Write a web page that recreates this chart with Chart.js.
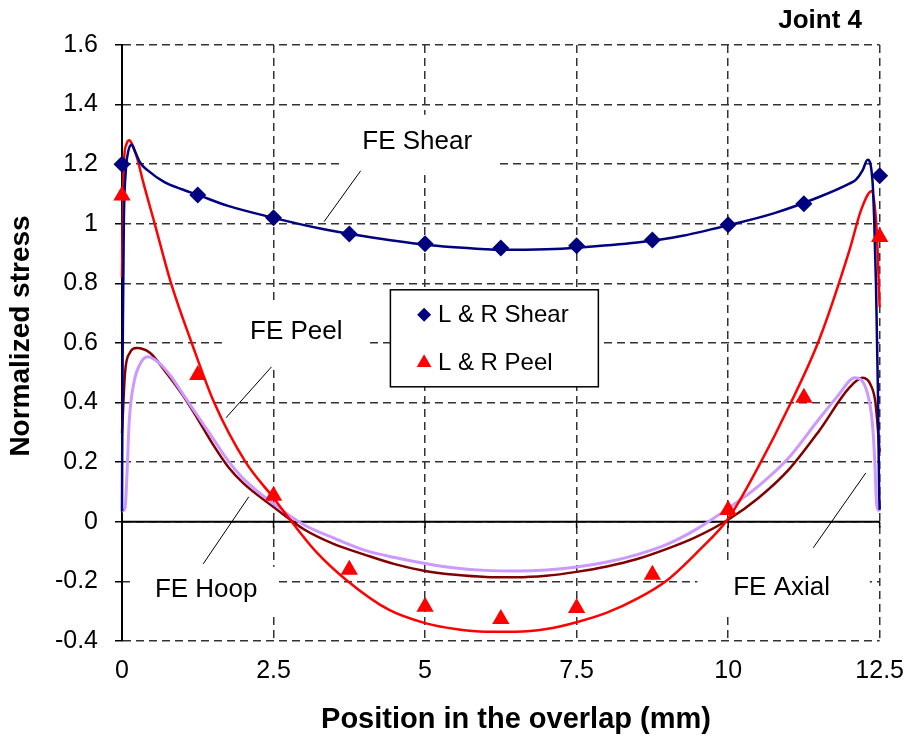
<!DOCTYPE html>
<html>
<head>
<meta charset="utf-8">
<script src="https://cdn.jsdelivr.net/npm/chart.js@4/dist/chart.umd.min.js"></script>
<style>
html,body{margin:0;padding:0;background:#fff;}
#wrap{width:919px;height:745px;position:relative;}
</style>
</head>
<body>
<div id="wrap"><canvas id="c" width="919" height="745"></canvas></div>
<script>
// ---------- DATA ----------
const lrX = [0, 1.25, 2.5, 3.75, 5, 6.25, 7.5, 8.75, 10, 11.25, 12.5];
const lrShear = [1.20, 1.097, 1.02, 0.966, 0.933, 0.919, 0.926, 0.946, 0.997, 1.067, 1.161];
const lrPeel = [1.095, 0.493, 0.087, -0.161, -0.285, -0.326, -0.289, -0.178, 0.04, 0.416, 0.956];

const feShearX = [0, 0.01, 0.03, 0.06, 0.1, 0.16, 0.22, 0.3, 0.42, 0.7, 1.0, 1.25, 1.75, 2.5, 3.25, 4.0, 5.0, 6.0, 6.25, 7.0, 7.5, 8.5, 9.25, 10.0, 10.75, 11.5, 12.0, 12.11, 12.22, 12.3, 12.38, 12.41, 12.44, 12.47, 12.49, 12.5];
const feShearY = [0.035, 0.55, 1.0, 1.17, 1.24, 1.265, 1.24, 1.205, 1.18, 1.14, 1.115, 1.097, 1.06, 1.02, 0.985, 0.958, 0.93, 0.915, 0.913, 0.915, 0.92, 0.937, 0.96, 0.995, 1.035, 1.09, 1.135, 1.148, 1.18, 1.215, 1.148, 1.013, 0.79, 0.454, 0.118, 0.04];

const fePeelX = [0, 0.03, 0.07, 0.12, 0.18, 0.25, 0.35, 0.54, 0.81, 1.15, 1.52, 2.04, 2.5, 2.8, 3.2, 3.7, 4.4, 5.0, 5.5, 6.0, 6.5, 7.0, 7.5, 8.0, 8.5, 9.0, 9.5, 10.0, 10.5, 11.0, 11.5, 12.0, 12.2, 12.37, 12.45, 12.5];
const fePeelY = [0.82, 1.2, 1.265, 1.28, 1.26, 1.22, 1.14, 1.0, 0.8, 0.6, 0.4, 0.2, 0.08, 0.0, -0.1, -0.195, -0.295, -0.34, -0.36, -0.369, -0.369, -0.36, -0.337, -0.305, -0.258, -0.195, -0.1, 0.01, 0.185, 0.385, 0.61, 0.91, 1.05, 1.11, 0.98, 0.72];

const feHoopX = [0, 0.05, 0.13, 0.24, 0.46, 0.73, 1.0, 1.25, 1.5, 1.75, 2.0, 2.5, 3.0, 3.5, 4.0, 4.5, 5.0, 5.5, 6.0, 6.5, 7.0, 7.5, 8.0, 8.5, 9.0, 9.44, 10.0, 10.5, 11.0, 11.5, 12.0, 12.22, 12.35, 12.43, 12.5];
const feHoopY = [0.298, 0.5, 0.567, 0.583, 0.567, 0.50, 0.425, 0.345, 0.26, 0.185, 0.13, 0.05, -0.025, -0.075, -0.11, -0.142, -0.165, -0.178, -0.185, -0.186, -0.181, -0.168, -0.15, -0.125, -0.09, -0.054, 0.007, 0.08, 0.175, 0.305, 0.45, 0.483, 0.46, 0.40, 0.235];

const feAxialX = [0, 0.05, 0.08, 0.12, 0.2, 0.3, 0.42, 0.6, 0.8, 1.0, 1.25, 1.5, 1.75, 2.0, 2.5, 3.0, 3.5, 4.0, 4.5, 5.0, 5.5, 6.0, 6.5, 7.0, 7.5, 8.0, 8.5, 9.0, 9.5, 10.0, 10.5, 11.0, 11.5, 11.8, 12.09, 12.3, 12.38, 12.42, 12.45, 12.5];
const feAxialY = [0.035, 0.045, 0.15, 0.34, 0.47, 0.53, 0.554, 0.535, 0.49, 0.43, 0.355, 0.28, 0.205, 0.145, 0.06, -0.01, -0.055, -0.095, -0.12, -0.14, -0.155, -0.163, -0.165, -0.162, -0.152, -0.135, -0.11, -0.075, -0.022, 0.045, 0.12, 0.215, 0.345, 0.42, 0.483, 0.43, 0.33, 0.2, 0.06, 0.035];

const xTickValues = [0, 2.5, 5, 7.5, 10, 12.5];
const xTickLabels = ['0', '2.5', '5', '7.5', '10', '12.5'];
const yTickValues = [-0.4, -0.2, 0, 0.2, 0.4, 0.6, 0.8, 1.0, 1.2, 1.4, 1.6];
const yTickLabels = ['-0.4', '-0.2', '0', '0.2', '0.4', '0.6', '0.8', '1', '1.2', '1.4', '1.6'];

const seriesNames = ['L & R Shear', 'L & R Peel', 'FE Shear', 'FE Peel', 'FE Hoop', 'FE Axial'];
const xTitle = 'Position in the overlap (mm)';
const yTitle = 'Normalized stress';
const cornerTitle = 'Joint 4';

// ---------- layout helpers (positions in data units, not data) ----------
const annotations = [
  {text: 'FE Shear', tx: 4.87, ty: 1.275, box: [3.595, 6.209, 1.366, 1.181], line: [3.938, 1.178, 3.333, 1.007]},
  {text: 'FE Peel',  tx: 2.876, ty: 0.638, box: [1.716, 4.085, 0.728, 0.520], line: [2.467, 0.520, 1.716, 0.349]},
  {text: 'FE Hoop',  tx: 1.389, ty: -0.228, box: [0.131, 2.582, -0.151, -0.305], line: [2.092, 0.084, 1.340, -0.141]},
  {text: 'FE Axial', tx: 10.882, ty: -0.221, box: [9.493, 12.337, -0.138, -0.312], line: [12.271, 0.164, 11.405, -0.087]}
];
const legendLayout = {x1: 4.428, x2: 7.859, y1: 0.7785, y2: 0.453, markerX: 4.984, textX: 5.212, rows: [0.6946, 0.5336]};

const FONT = '"Liberation Sans", Arial, Helvetica, sans-serif';
const pts = (xs, ys) => xs.map((x, i) => ({x: x, y: ys[i]}));

const decor = {
  id: 'decor',
  beforeDatasetsDraw(chart) {
    const ctx = chart.ctx, X = chart.scales.x, Y = chart.scales.y, a = chart.chartArea;
    ctx.save();
    ctx.setLineDash([]);
    ctx.fillStyle = '#fff';
    annotations.forEach(an => {
      const x1 = X.getPixelForValue(an.box[0]), x2 = X.getPixelForValue(an.box[1]);
      const y1 = Y.getPixelForValue(an.box[2]), y2 = Y.getPixelForValue(an.box[3]);
      ctx.fillRect(x1, y1, x2 - x1, y2 - y1);
    });
    const y0 = Y.getPixelForValue(0);
    ctx.strokeStyle = '#000';
    ctx.lineWidth = 2;
    ctx.beginPath(); ctx.moveTo(a.left, y0); ctx.lineTo(a.right, y0); ctx.stroke();
    ctx.lineWidth = 1.5;
    xTickValues.forEach(v => {
      const x = X.getPixelForValue(v);
      ctx.beginPath(); ctx.moveTo(x, y0); ctx.lineTo(x, y0 + 6); ctx.stroke();
    });
    ctx.fillStyle = '#000';
    ctx.font = '26px ' + FONT;
    ctx.textAlign = 'center';
    ctx.textBaseline = 'middle';
    ctx.lineWidth = 1;
    annotations.forEach(an => {
      ctx.fillText(an.text, X.getPixelForValue(an.tx), Y.getPixelForValue(an.ty));
      ctx.beginPath();
      ctx.moveTo(X.getPixelForValue(an.line[0]), Y.getPixelForValue(an.line[1]));
      ctx.lineTo(X.getPixelForValue(an.line[2]), Y.getPixelForValue(an.line[3]));
      ctx.stroke();
    });
    ctx.restore();
  },
  afterDatasetsDraw(chart) {
    const ctx = chart.ctx, X = chart.scales.x, Y = chart.scales.y;
    ctx.save();
    ctx.setLineDash([]);
    const L = legendLayout;
    const x1 = X.getPixelForValue(L.x1), x2 = X.getPixelForValue(L.x2);
    const y1 = Y.getPixelForValue(L.y1), y2 = Y.getPixelForValue(L.y2);
    ctx.fillStyle = '#fff';
    ctx.fillRect(x1, y1, x2 - x1, y2 - y1);
    ctx.strokeStyle = '#000';
    ctx.lineWidth = 1.5;
    ctx.strokeRect(x1, y1, x2 - x1, y2 - y1);
    [0, 1].forEach((di, r) => {
      const ds = chart.data.datasets[di];
      const mx = X.getPixelForValue(L.markerX), my = Y.getPixelForValue(L.rows[r]);
      ctx.fillStyle = ds.backgroundColor;
      ctx.strokeStyle = ds.borderColor;
      Chart.helpers.drawPoint(ctx, {pointStyle: ds.pointStyle, radius: ds.pointStyle === 'triangle' ? 8.5 : 7, rotation: 0, borderWidth: 0}, mx, my);
      ctx.fillStyle = '#000';
      ctx.font = '24px ' + FONT;
      ctx.textAlign = 'left';
      ctx.textBaseline = 'middle';
      ctx.fillText(ds.label, X.getPixelForValue(L.textX), my + 1);
    });
    ctx.restore();
  },
  afterDraw(chart) {
    const ctx = chart.ctx, a = chart.chartArea;
    ctx.save();
    ctx.fillStyle = '#000';
    ctx.textBaseline = 'middle';
    ctx.textAlign = 'center';
    ctx.font = 'bold 29px ' + FONT;
    ctx.fillText(xTitle, 516, 720);
    ctx.save();
    ctx.translate(21, 336);
    ctx.rotate(-Math.PI / 2);
    ctx.font = 'bold 28px ' + FONT;
    ctx.fillText(yTitle, 0, 0);
    ctx.restore();
    ctx.textAlign = 'right';
    ctx.font = 'bold 26px ' + FONT;
    ctx.fillText(cornerTitle, 862, 21);
    ctx.restore();
  }
};

const gridColor = '#333333';
const chart = new Chart(document.getElementById('c'), {
  type: 'line',
  data: {
    datasets: [
      {label: seriesNames[0], data: pts(lrX, lrShear), showLine: false, pointStyle: 'rectRot', pointRadius: 8.5,
       backgroundColor: '#000080', borderColor: '#000080', pointBorderWidth: 0, clip: false, order: 0},
      {label: seriesNames[1], data: pts(lrX, lrPeel), showLine: false, pointStyle: 'triangle', pointRadius: 10,
       backgroundColor: '#FF0000', borderColor: '#FF0000', pointBorderWidth: 0, clip: false, order: 1},
      {label: seriesNames[2], data: pts(feShearX, feShearY), borderColor: '#000080', borderWidth: 2.5, pointRadius: 0,
       cubicInterpolationMode: 'monotone', fill: false, clip: false, order: 2},
      {label: seriesNames[3], data: pts(fePeelX, fePeelY), borderColor: '#FF0000', borderWidth: 2.5, pointRadius: 0,
       cubicInterpolationMode: 'monotone', fill: false, clip: false, order: 3},
      {label: seriesNames[4], data: pts(feHoopX, feHoopY), borderColor: '#800000', borderWidth: 2.5, pointRadius: 0,
       cubicInterpolationMode: 'monotone', fill: false, clip: false, order: 5},
      {label: seriesNames[5], data: pts(feAxialX, feAxialY), borderColor: '#CC99FF', borderWidth: 3, pointRadius: 0,
       cubicInterpolationMode: 'monotone', fill: false, clip: false, order: 4}
    ]
  },
  options: {
    responsive: false,
    animation: false,
    devicePixelRatio: 1,
    layout: {padding: {top: 45, right: 32, bottom: 0, left: 0}},
    plugins: {legend: {display: false}, tooltip: {enabled: false}, title: {display: false}},
    scales: {
      x: {
        type: 'linear', min: 0, max: 12.5,
        afterBuildTicks: s => { s.ticks = xTickValues.map(v => ({value: v})); },
        afterFit: s => { s.height = 104; },
        ticks: {autoSkip: false, maxRotation: 0, padding: 15, color: '#000', font: {family: FONT, size: 25},
                callback: (v, i) => xTickLabels[i]},
        grid: {color: gridColor, lineWidth: 1.5, drawTicks: false},
        border: {display: false, dash: [8, 5]}
      },
      y: {
        type: 'linear', min: -0.4, max: 1.6,
        afterBuildTicks: s => { s.ticks = yTickValues.map(v => ({value: v})); },
        afterFit: s => { s.width = 122; },
        ticks: {autoSkip: false, padding: 17, color: '#000', font: {family: FONT, size: 25},
                callback: (v, i) => yTickLabels[i]},
        grid: {color: gridColor, lineWidth: 1.5, drawTicks: true, tickLength: 7, tickColor: '#000', tickWidth: 1.5},
        border: {display: true, color: '#000', width: 2, dash: [8, 5]}
      }
    }
  },
  plugins: [decor]
});
</script>
</body>
</html>
